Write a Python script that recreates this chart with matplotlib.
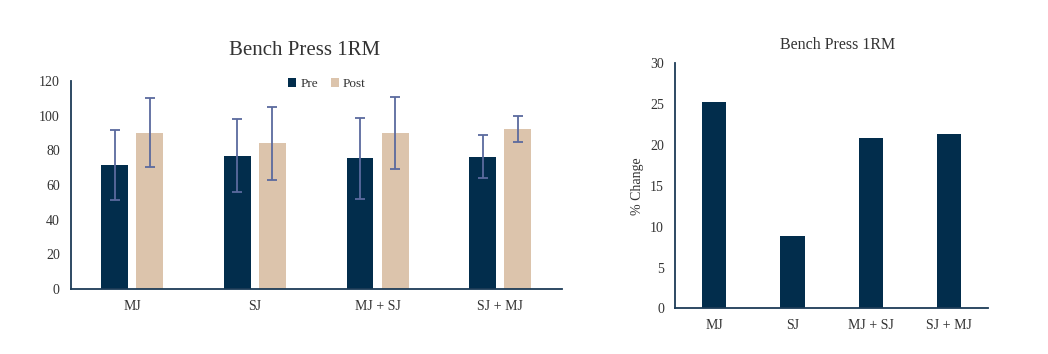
import numpy as np
import matplotlib.pyplot as plt

plt.rcParams['font.family'] = ['Liberation Serif', 'DejaVu Serif']

# data
groups = ['MJ', 'SJ', 'MJ + SJ', 'SJ + MJ']
pre_mean = [71.5, 76.9, 75.4, 76.2]
pre_err = [20.0, 21.2, 23.4, 12.4]
post_mean = [90.2, 84.0, 90.2, 92.1]
post_err = [19.8, 21.2, 20.7, 7.5]
pct_change = [25.3, 8.85, 20.8, 21.3]

navy = '#022d4c'
beige = '#dcc4ac'
err_col = '#5b6a9e'
spine_col = '#1c3b57'
txt_col = '#333333'

fig = plt.figure(figsize=(10.48, 3.54), dpi=100)

# ---------- left: pre / post means ----------
ax1 = fig.add_axes([0.0677, 0.1836, 0.4682, 0.5876])
x = np.arange(len(groups))
w = 0.218
off = 0.143
ax1.bar(x - off, pre_mean, w, color=navy, label='Pre', zorder=2)
ax1.bar(x + off, post_mean, w, color=beige, label='Post', zorder=2)
ax1.errorbar(x - off, pre_mean, yerr=pre_err, fmt='none', ecolor=err_col,
             elinewidth=1.3, capsize=3.5, capthick=1.3, zorder=3)
ax1.errorbar(x + off, post_mean, yerr=post_err, fmt='none', ecolor=err_col,
             elinewidth=1.3, capsize=3.5, capthick=1.3, zorder=3)
ax1.set_xlim(-0.5, 3.5)
ax1.set_ylim(0, 120)
ax1.set_yticks(range(0, 121, 20))
ax1.set_xticks(x)
ax1.set_xticklabels(groups)
ax1.set_title('Bench Press 1RM', fontsize=15, color=txt_col, pad=19, x=0.477)
leg = ax1.legend(loc='center', bbox_to_anchor=(0.522, 0.985), ncol=2, frameon=False,
                 fontsize=9.5, handlelength=0.6, handleheight=0.6, handletextpad=0.3,
                 columnspacing=1.0, labelcolor=txt_col)

# ---------- right: % change ----------
ax2 = fig.add_axes([0.6441, 0.129, 0.2987, 0.692])
ax2.bar(x, pct_change, 0.31, color=navy, zorder=2)
ax2.set_xlim(-0.5, 3.5)
ax2.set_ylim(0, 30)
ax2.set_yticks(range(0, 31, 5))
ax2.set_xticks(x)
ax2.set_xticklabels(groups)
ax2.set_ylabel('% Change', fontsize=10, color=txt_col, labelpad=4)
ax2.set_title('Bench Press 1RM', fontsize=11.5, color=txt_col, pad=10, x=0.52)

for ax in (ax1, ax2):
    for s in ('top', 'right'):
        ax.spines[s].set_visible(False)
    for s in ('left', 'bottom'):
        ax.spines[s].set_color(spine_col)
        ax.spines[s].set_linewidth(1.3)
    ax.tick_params(length=0, labelsize=10, colors=txt_col)
    ax.tick_params(axis='x', pad=8)
    ax.tick_params(axis='y', pad=8)

fig.savefig('out.png', dpi=100)
